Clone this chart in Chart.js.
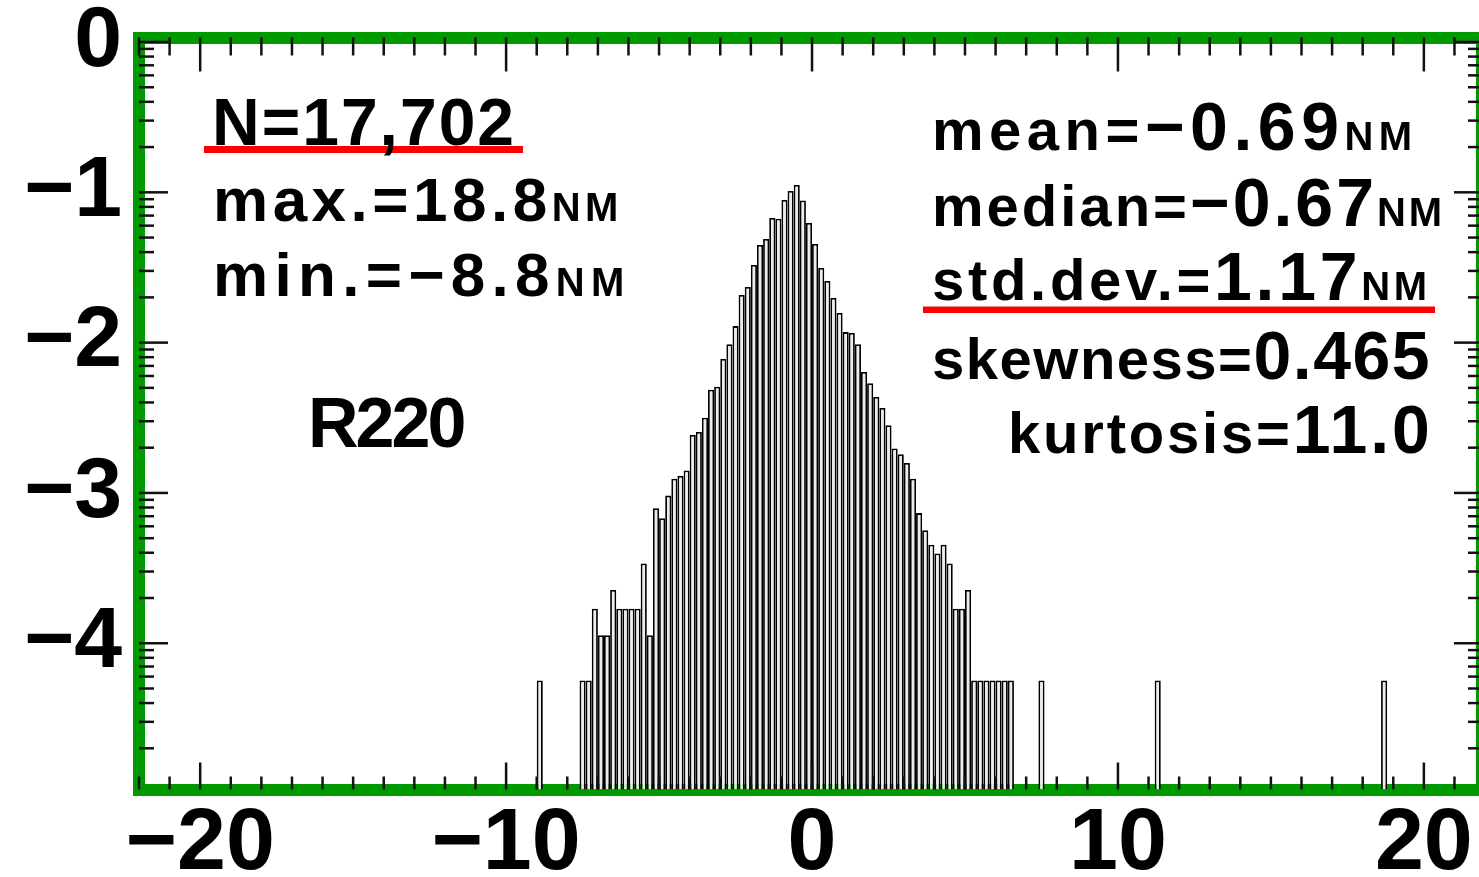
<!DOCTYPE html>
<html><head><meta charset="utf-8">
<script src="https://cdn.jsdelivr.net/npm/chart.js@4/dist/chart.umd.min.js"></script>
<style>
html,body{margin:0;padding:0;background:#fff;overflow:hidden;}
#wrap{position:relative;width:1500px;height:877px;}
</style></head><body>
<div id="wrap"><canvas id="c" width="1500" height="877"></canvas></div>
<script>
// ---- data ----
const N = 17702;            // number of samples
const binWidth = 0.2;       // NM
const binLeft = [
  -9.0,
  -7.6, -7.4, -7.2, -7.0, -6.8, -6.6, -6.4, -6.2, -6.0, -5.8,
  -5.6, -5.4, -5.2, -5.0, -4.8, -4.6, -4.4, -4.2, -4.0, -3.8,
  -3.6, -3.4, -3.2, -3.0, -2.8, -2.6, -2.4, -2.2, -2.0, -1.8,
  -1.6, -1.4, -1.2, -1.0, -0.8, -0.6, -0.4, -0.2, 0.0, 0.2,
  0.4, 0.6, 0.8, 1.0, 1.2, 1.4, 1.6, 1.8, 2.0, 2.2,
  2.4, 2.6, 2.8, 3.0, 3.2, 3.4, 3.6, 3.8, 4.0, 4.2,
  4.4, 4.6, 4.8, 5.0, 5.2, 5.4, 5.6, 5.8, 6.0, 6.2,
  6.4,
  7.4, 11.2, 18.6
];
const binCount = [
  1,
  1, 1, 3, 2, 2, 4, 3, 3, 3, 3,
  6, 2, 14, 12, 17, 22, 23, 25, 43, 45,
  56, 86, 90, 138, 173, 228, 367, 415, 581, 789,
  865, 1194, 1180, 1574, 1807, 1982, 1560, 1106, 802, 555,
  455, 351, 279, 208, 205, 173, 113, 95, 77, 65,
  50, 35, 32, 28, 22, 13, 10, 8, 7, 8,
  6, 3, 3, 4, 1, 1, 1, 1, 1, 1,
  1,
  1, 1, 1
];
const xTickValues = [-20, -10, 0, 10, 20];
const xTickLabels = ['\u221220', '\u221210', '0', '10', '20'];
const yTickValues = [1, 0.1, 0.01, 0.001, 0.0001];
const yTickLabels = ['0', '\u22121', '\u22122', '\u22123', '\u22124'];
const xMin = -22, xMax = 21.9;
const yMinExp = -4.973, yMaxExp = 0.03;

const statsLeft = [
  {parts: [['N=17,702', 66]], x: 212, y: 145, sp: 2},
  {parts: [['max.=18.8', 62], ['NM', 40]], x: 213, y: 221, sp: 4.5},
  {parts: [['min.=\u22128.8', 62], ['NM', 40]], x: 213, y: 296, sp: 6.3},
  {parts: [['R220', 70]], x: 308, y: 447, sp: -3}
];
const statsRight = [
  {parts: [['mean=', 58], ['\u22120.69', 68], ['NM', 40]], x: 932, y: 150, sp: 5.5},
  {parts: [['median=', 58], ['\u22120.67', 68], ['NM', 40]], x: 932, y: 226, sp: 3},
  {parts: [['std.dev.=', 58], ['1.17', 68], ['NM', 40]], x: 932, y: 300, sp: 3.7},
  {parts: [['skewness=', 58], ['0.465', 68]], x: 932, y: 379, sp: 1.5},
  {parts: [['kurtosis=', 58], ['11.0', 68]], x: 1008, y: 453, sp: 2.8}
];
const underlines = [
  {x: 204, y: 146, w: 319, h: 7},
  {x: 923, y: 306.5, w: 512, h: 6.5}
];

// ---- chart ----
const GREEN = '#009a00';
const FONT = '"Liberation Sans", Arial, sans-serif';
const points = binLeft.map((l, i) => ({x: l + binWidth / 2, y: binCount[i] / N}));
const isPow10 = v => Math.abs(Math.log10(v) - Math.round(Math.log10(v))) < 1e-9;

const innerTicks = {
  id: 'innerTicks',
  afterDatasetsDraw(chart) {
    const {ctx, chartArea: a, scales: {x, y}} = chart;
    ctx.save();
    ctx.strokeStyle = '#111';
    ctx.lineWidth = 2.5;
    const line = (x1, y1, x2, y2) => { ctx.beginPath(); ctx.moveTo(x1, y1); ctx.lineTo(x2, y2); ctx.stroke(); };
    x.ticks.forEach(t => {
      const px = x.getPixelForValue(t.value);
      const maj = Math.abs(t.value % 10) < 1e-9;
      line(px, a.bottom, px, a.bottom - (maj ? 27 : 13));
      line(px, a.top, px, a.top + (maj ? 34 : 18));
    });
    y.ticks.forEach(t => {
      const py = y.getPixelForValue(t.value);
      const maj = isPow10(t.value);
      line(a.left, py, a.left + (maj ? 29 : 15), py);
      line(a.right, py, a.right - (maj ? 28 : 14), py);
    });
    ctx.restore();
  }
};

const annotations = {
  id: 'annotations',
  afterDraw(chart) {
    const ctx = chart.ctx;
    ctx.save();
    ctx.fillStyle = '#ff0000';
    underlines.forEach(u => ctx.fillRect(u.x, u.y, u.w, u.h));
    ctx.fillStyle = '#000';
    ctx.textBaseline = 'alphabetic';
    ctx.textAlign = 'left';
    [...statsLeft, ...statsRight].forEach(s => {
      let cx = s.x;
      ctx.letterSpacing = s.sp + 'px';
      s.parts.forEach(([txt, size]) => {
        ctx.font = 'bold ' + size + 'px ' + FONT;
        ctx.fillText(txt, cx, s.y);
        cx += ctx.measureText(txt).width;
      });
    });
    ctx.restore();
  }
};

const borderOpts = {display: true, color: GREEN, width: 12};
const gridOpts = {display: true, drawOnChartArea: false, drawTicks: false, offset: false};

new Chart(document.getElementById('c'), {
  type: 'bar',
  data: {
    datasets: [{
      data: points,
      backgroundColor: '#ececec',
      borderColor: '#000000',
      borderWidth: 1.8,
      borderSkipped: 'start',
      barPercentage: 1,
      categoryPercentage: 1,
      grouped: false,
      inflateAmount: 0
    }]
  },
  options: {
    responsive: false,
    animation: false,
    events: [],
    layout: {padding: {left: 0, top: 37.5, right: 18, bottom: 0}},
    plugins: {legend: {display: false}, tooltip: {enabled: false}},
    scales: {
      x: {
        type: 'linear', position: 'bottom', min: xMin, max: xMax, z: 1, offset: false,
        afterBuildTicks: s => {
          const t = [];
          for (let v = Math.ceil(xMin); v <= Math.floor(xMax); v++) t.push({value: v});
          s.ticks = t;
        },
        afterFit: s => { s.height = 87.5; s.paddingLeft = 0; s.paddingRight = 0; },
        ticks: {
          autoSkip: false, maxRotation: 0, padding: 2, color: '#000',
          font: {family: FONT, weight: 'bold', size: 88},
          callback: v => { const i = xTickValues.indexOf(v); return i >= 0 ? xTickLabels[i] : ''; }
        },
        grid: gridOpts, border: borderOpts
      },
      xTop: {
        type: 'linear', position: 'top', min: xMin, max: xMax, z: 1, offset: false,
        afterFit: s => { s.height = 0; s.paddingLeft = 0; s.paddingRight = 0; },
        ticks: {display: false},
        grid: gridOpts, border: borderOpts
      },
      y: {
        type: 'logarithmic', position: 'left',
        min: Math.pow(10, yMinExp), max: Math.pow(10, yMaxExp), z: 1,
        afterBuildTicks: s => {
          const t = [];
          for (let e = -5; e <= 0; e++) for (let m = 1; m <= 9; m++) {
            const v = m * Math.pow(10, e);
            if (v >= s.min && v <= s.max) t.push({value: v});
          }
          s.ticks = t;
        },
        afterFit: s => { s.width = 139; s.paddingTop = 0; s.paddingBottom = 0; },
        ticks: {
          autoSkip: false, padding: 17, color: '#000',
          font: {family: FONT, weight: 'bold', size: 86},
          callback: v => {
            const i = yTickValues.findIndex(tv => Math.abs(Math.log10(tv) - Math.log10(v)) < 1e-9);
            return i >= 0 ? yTickLabels[i] : '';
          }
        },
        grid: gridOpts, border: borderOpts
      },
      yRight: {
        type: 'linear', position: 'right', z: 1,
        afterFit: s => { s.width = 0; s.paddingTop = 0; s.paddingBottom = 0; },
        ticks: {display: false},
        grid: gridOpts, border: borderOpts
      }
    }
  },
  plugins: [innerTicks, annotations]
});
</script>
</body></html>
